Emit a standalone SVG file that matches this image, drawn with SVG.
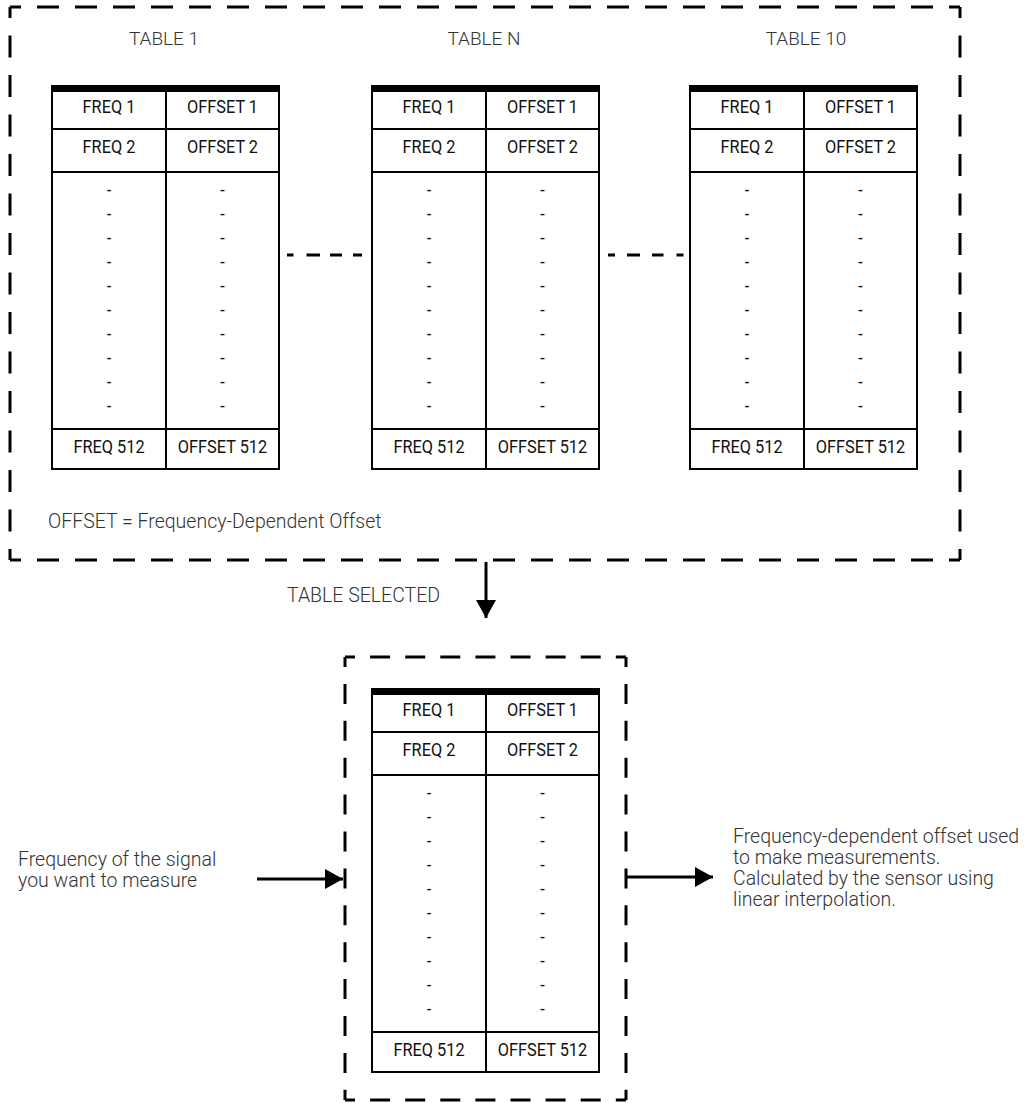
<svg xmlns="http://www.w3.org/2000/svg" width="1028" height="1103" viewBox="0 0 1028 1103">
<style>
.bg{fill:#fff}
.tb{fill:#fff;stroke:#000;stroke-width:2}
.tl{fill:none;stroke:#000;stroke-width:2}
.bar{fill:#000}
.cell{font-family:"Roboto","Liberation Sans",sans-serif;font-weight:400;font-size:19px;fill:#111;text-anchor:middle}
.lt{font-family:"Roboto","Liberation Sans",sans-serif;font-weight:300;font-size:19.5px;fill:#333}
.ttl{text-anchor:middle;font-size:19px}
.dsh{fill:none;stroke:#000;stroke-width:3}
.ln{fill:none;stroke:#000;stroke-width:3}
</style>
<defs>
<marker id="ah" markerUnits="userSpaceOnUse" markerWidth="18" markerHeight="20" refX="18" refY="10" orient="auto">
<path d="M0 0L18 10L0 20Z" fill="#000"/>
</marker>
</defs>
<rect class="bg" x="0" y="0" width="1028" height="1103"/>

<g id="outer-box">
<line class="dsh" x1="10" y1="7" x2="960" y2="7" stroke-dasharray="22 16" stroke-dashoffset="11"/>
<line class="dsh" x1="10" y1="560" x2="960" y2="560" stroke-dasharray="22 16" stroke-dashoffset="11"/>
<line class="dsh" x1="10" y1="7" x2="10" y2="560" stroke-dasharray="22 17.5" stroke-dashoffset="11"/>
<line class="dsh" x1="960" y1="7" x2="960" y2="560" stroke-dasharray="22 17.5" stroke-dashoffset="11"/>
<text class="lt" x="48" y="528">OFFSET = Frequency-Dependent Offset</text>
</g>

<g id="table-1">
<text class="lt ttl" x="164" y="45">TABLE 1</text>
<g transform="translate(52,86)">
<rect class="tb" x="0" y="0" width="227" height="383"/>
<rect class="bar" x="-1" y="0" width="229" height="6"/>
<path class="tl" d="M114 6V383M0 43H227M0 86H227M0 343H227"/>
<g transform="translate(57,0) scale(0.86,1)">
<text class="cell" x="0" y="27">FREQ 1</text>
<text class="cell" x="0" y="67">FREQ 2</text>
<text class="cell" x="0" y="367">FREQ 512</text>
<text class="cell" x="0" y="110">-<tspan x="0" dy="24">-</tspan><tspan x="0" dy="24">-</tspan><tspan x="0" dy="24">-</tspan><tspan x="0" dy="24">-</tspan><tspan x="0" dy="24">-</tspan><tspan x="0" dy="24">-</tspan><tspan x="0" dy="24">-</tspan><tspan x="0" dy="24">-</tspan><tspan x="0" dy="24">-</tspan></text>
</g>
<g transform="translate(170.5,0) scale(0.86,1)">
<text class="cell" x="0" y="27">OFFSET 1</text>
<text class="cell" x="0" y="67">OFFSET 2</text>
<text class="cell" x="0" y="367">OFFSET 512</text>
<text class="cell" x="0" y="110">-<tspan x="0" dy="24">-</tspan><tspan x="0" dy="24">-</tspan><tspan x="0" dy="24">-</tspan><tspan x="0" dy="24">-</tspan><tspan x="0" dy="24">-</tspan><tspan x="0" dy="24">-</tspan><tspan x="0" dy="24">-</tspan><tspan x="0" dy="24">-</tspan><tspan x="0" dy="24">-</tspan></text>
</g>
</g>
</g>

<g id="table-n">
<text class="lt ttl" x="484" y="45">TABLE N</text>
<g transform="translate(372,86)">
<rect class="tb" x="0" y="0" width="227" height="383"/>
<rect class="bar" x="-1" y="0" width="229" height="6"/>
<path class="tl" d="M114 6V383M0 43H227M0 86H227M0 343H227"/>
<g transform="translate(57,0) scale(0.86,1)">
<text class="cell" x="0" y="27">FREQ 1</text>
<text class="cell" x="0" y="67">FREQ 2</text>
<text class="cell" x="0" y="367">FREQ 512</text>
<text class="cell" x="0" y="110">-<tspan x="0" dy="24">-</tspan><tspan x="0" dy="24">-</tspan><tspan x="0" dy="24">-</tspan><tspan x="0" dy="24">-</tspan><tspan x="0" dy="24">-</tspan><tspan x="0" dy="24">-</tspan><tspan x="0" dy="24">-</tspan><tspan x="0" dy="24">-</tspan><tspan x="0" dy="24">-</tspan></text>
</g>
<g transform="translate(170.5,0) scale(0.86,1)">
<text class="cell" x="0" y="27">OFFSET 1</text>
<text class="cell" x="0" y="67">OFFSET 2</text>
<text class="cell" x="0" y="367">OFFSET 512</text>
<text class="cell" x="0" y="110">-<tspan x="0" dy="24">-</tspan><tspan x="0" dy="24">-</tspan><tspan x="0" dy="24">-</tspan><tspan x="0" dy="24">-</tspan><tspan x="0" dy="24">-</tspan><tspan x="0" dy="24">-</tspan><tspan x="0" dy="24">-</tspan><tspan x="0" dy="24">-</tspan><tspan x="0" dy="24">-</tspan></text>
</g>
</g>
</g>

<g id="table-10">
<text class="lt ttl" x="806" y="45">TABLE 10</text>
<g transform="translate(690,86)">
<rect class="tb" x="0" y="0" width="227" height="383"/>
<rect class="bar" x="-1" y="0" width="229" height="6"/>
<path class="tl" d="M114 6V383M0 43H227M0 86H227M0 343H227"/>
<g transform="translate(57,0) scale(0.86,1)">
<text class="cell" x="0" y="27">FREQ 1</text>
<text class="cell" x="0" y="67">FREQ 2</text>
<text class="cell" x="0" y="367">FREQ 512</text>
<text class="cell" x="0" y="110">-<tspan x="0" dy="24">-</tspan><tspan x="0" dy="24">-</tspan><tspan x="0" dy="24">-</tspan><tspan x="0" dy="24">-</tspan><tspan x="0" dy="24">-</tspan><tspan x="0" dy="24">-</tspan><tspan x="0" dy="24">-</tspan><tspan x="0" dy="24">-</tspan><tspan x="0" dy="24">-</tspan></text>
</g>
<g transform="translate(170.5,0) scale(0.86,1)">
<text class="cell" x="0" y="27">OFFSET 1</text>
<text class="cell" x="0" y="67">OFFSET 2</text>
<text class="cell" x="0" y="367">OFFSET 512</text>
<text class="cell" x="0" y="110">-<tspan x="0" dy="24">-</tspan><tspan x="0" dy="24">-</tspan><tspan x="0" dy="24">-</tspan><tspan x="0" dy="24">-</tspan><tspan x="0" dy="24">-</tspan><tspan x="0" dy="24">-</tspan><tspan x="0" dy="24">-</tspan><tspan x="0" dy="24">-</tspan><tspan x="0" dy="24">-</tspan></text>
</g>
</g>
</g>

<g id="selected-box">
<line class="dsh" x1="345" y1="657" x2="626" y2="657" stroke-dasharray="20 15.1" stroke-dashoffset="10"/>
<line class="dsh" x1="345" y1="1100" x2="626" y2="1100" stroke-dasharray="20 15.1" stroke-dashoffset="10"/>
<line class="dsh" x1="345" y1="657" x2="345" y2="1100" stroke-dasharray="20 16.9" stroke-dashoffset="10"/>
<line class="dsh" x1="626" y1="657" x2="626" y2="1100" stroke-dasharray="20 16.9" stroke-dashoffset="10"/>
</g>

<g id="selected-table">
<g transform="translate(372,689)">
<rect class="tb" x="0" y="0" width="227" height="383"/>
<rect class="bar" x="-1" y="0" width="229" height="6"/>
<path class="tl" d="M114 6V383M0 43H227M0 86H227M0 343H227"/>
<g transform="translate(57,0) scale(0.86,1)">
<text class="cell" x="0" y="27">FREQ 1</text>
<text class="cell" x="0" y="67">FREQ 2</text>
<text class="cell" x="0" y="367">FREQ 512</text>
<text class="cell" x="0" y="110">-<tspan x="0" dy="24">-</tspan><tspan x="0" dy="24">-</tspan><tspan x="0" dy="24">-</tspan><tspan x="0" dy="24">-</tspan><tspan x="0" dy="24">-</tspan><tspan x="0" dy="24">-</tspan><tspan x="0" dy="24">-</tspan><tspan x="0" dy="24">-</tspan><tspan x="0" dy="24">-</tspan></text>
</g>
<g transform="translate(170.5,0) scale(0.86,1)">
<text class="cell" x="0" y="27">OFFSET 1</text>
<text class="cell" x="0" y="67">OFFSET 2</text>
<text class="cell" x="0" y="367">OFFSET 512</text>
<text class="cell" x="0" y="110">-<tspan x="0" dy="24">-</tspan><tspan x="0" dy="24">-</tspan><tspan x="0" dy="24">-</tspan><tspan x="0" dy="24">-</tspan><tspan x="0" dy="24">-</tspan><tspan x="0" dy="24">-</tspan><tspan x="0" dy="24">-</tspan><tspan x="0" dy="24">-</tspan><tspan x="0" dy="24">-</tspan></text>
</g>
</g>
</g>

<g id="input-label">
<text class="lt" x="18" y="866">Frequency of the signal</text>
<text class="lt" x="18" y="887">you want to measure</text>
</g>

<g id="output-label">
<text class="lt" x="733" y="843">Frequency-dependent offset used</text>
<text class="lt" x="733" y="864">to make measurements.</text>
<text class="lt" x="733" y="885">Calculated by the sensor using</text>
<text class="lt" x="733" y="906">linear interpolation.</text>
</g>

<g id="connectors">
<path class="ln" d="M287 255H293.5M306.5 255H320M330 255H342M353 255H362"/>
<path class="ln" d="M608 255H615M627 255H640M652 255H663.5M676.5 255H683.5"/>
<line class="ln" x1="486" y1="562" x2="486" y2="618" marker-end="url(#ah)"/>
<text class="lt" x="287" y="602">TABLE SELECTED</text>
<line class="ln" x1="257" y1="879" x2="343" y2="879" marker-end="url(#ah)"/>
<line class="ln" x1="626" y1="877" x2="713" y2="877" marker-end="url(#ah)"/>
</g>
</svg>
